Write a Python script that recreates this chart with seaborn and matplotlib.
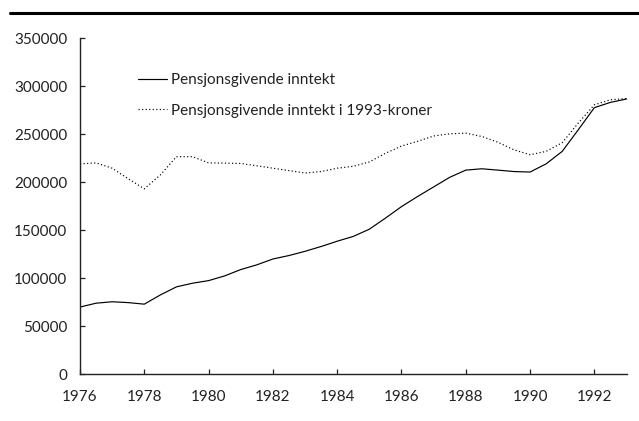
import matplotlib
matplotlib.use("Agg")
import matplotlib.pyplot as plt
from matplotlib.lines import Line2D
import seaborn as sns
import pandas as pd

# readings every half year
years = [1976.0, 1976.5, 1977.0, 1977.5, 1978.0, 1978.5, 1979.0, 1979.5, 1980.0,
         1980.5, 1981.0, 1981.5, 1982.0, 1982.5, 1983.0, 1983.5, 1984.0, 1984.5,
         1985.0, 1985.5, 1986.0, 1986.5, 1987.0, 1987.5, 1988.0, 1988.5, 1989.0,
         1989.5, 1990.0, 1990.5, 1991.0, 1991.5, 1992.0, 1992.5, 1993.0]
nominal = [70000, 74000, 75500, 74600, 73000, 82600, 91000, 94800, 97500,
           102400, 109000, 113900, 120000, 123600, 128000, 133000, 138500, 143500,
           151000, 162500, 174500, 185000, 195000, 205000, 212500, 213900, 212500,
           211000, 210500, 219000, 232000, 254500, 277500, 283000, 286500]
real_1993 = [219000, 220000, 214500, 203500, 193000, 207500, 226500, 226500, 220000,
             219800, 219400, 217000, 214500, 212000, 209500, 211000, 214500, 216500,
             221000, 230000, 237500, 242500, 248000, 250300, 251000, 247500, 241500,
             233600, 228500, 232000, 241000, 261500, 280500, 285700, 287000]
labels = ["Pensjonsgivende inntekt", "Pensjonsgivende inntekt i 1993-kroner"]
y_ticks = [0, 50000, 100000, 150000, 200000, 250000, 300000, 350000]
x_ticks = list(range(1976, 1993, 2))

sns.set_theme(style="ticks")
plt.rcParams["font.family"] = ["Lato", "DejaVu Sans"]
plt.rcParams["font.size"] = 11

fig = plt.figure(figsize=(6.39, 4.21), dpi=100)
ax = fig.add_axes([80 / 639, 1 - 374.3 / 421, (626.5 - 80) / 639, (374.3 - 38) / 421])

df = pd.DataFrame({"year": years, "nominal": nominal, "real": real_1993})
sns.lineplot(data=df, x="year", y="nominal", ax=ax, color="black", lw=0.85,
             label=labels[0])
sns.lineplot(data=df, x="year", y="real", ax=ax, color="black", lw=0.85,
             linestyle=(0, (1, 2)), label=labels[1])

ax.set_xlim(1976, 1993)
ax.set_ylim(0, 350000)
ax.set_xticks(x_ticks)
ax.set_yticks(y_ticks)
ax.set_xticklabels([str(t) for t in x_ticks])
ax.set_yticklabels([str(t) for t in y_ticks])
ax.set_xlabel("")
ax.set_ylabel("")
for s in ["top", "right"]:
    ax.spines[s].set_visible(False)
for s in ["left", "bottom"]:
    ax.spines[s].set_color("#222222")
    ax.spines[s].set_linewidth(1.0)
ax.tick_params(axis="both", direction="in", length=3.5, width=0.9,
               colors="#222222", labelsize=11, labelcolor="#222222")
ax.tick_params(axis="y", pad=9.0)
ax.tick_params(axis="x", pad=11.5)

leg = ax.legend(loc="upper left", bbox_to_anchor=(138 / 639, 1 - 73 / 421),
                bbox_transform=fig.transFigure, frameon=False, borderpad=0,
                borderaxespad=0, handlelength=1.9, handletextpad=0.25,
                labelspacing=1.1, fontsize=11)
for t in leg.get_texts():
    t.set_color("#222222")

fig.add_artist(Line2D([10 / 639, 1.0], [1 - 12.7 / 421, 1 - 12.7 / 421],
                      transform=fig.transFigure, color="black", lw=2.2))

fig.savefig("out.png", dpi=100)
